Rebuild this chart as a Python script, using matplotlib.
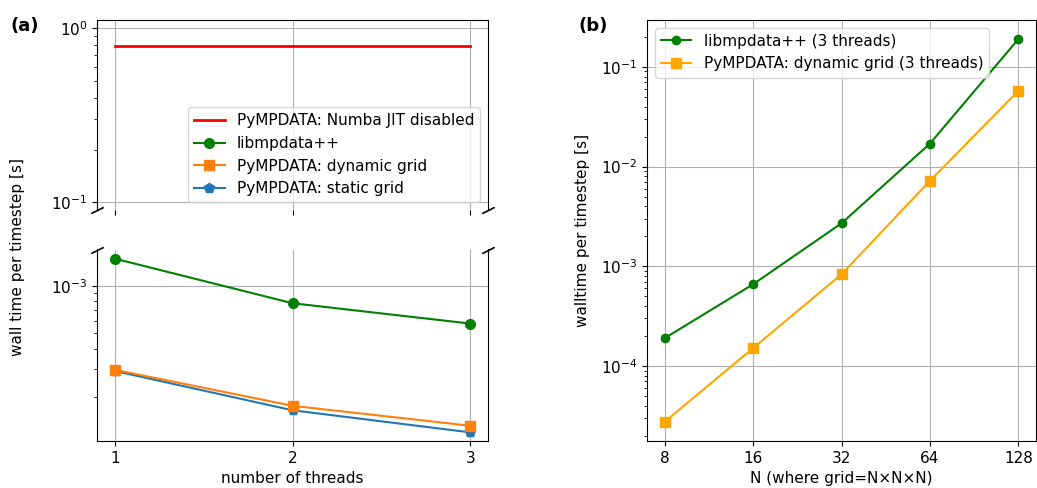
import matplotlib
matplotlib.use("Agg")
import matplotlib.pyplot as plt
import matplotlib.ticker as mticker

plt.rcParams['font.size'] = 11

# panel (a): timing vs number of threads
threads = [1, 2, 3]
numba_off = [0.79, 0.79, 0.79]
libmpdata = [1.48e-3, 7.75e-4, 5.77e-4]
pympdata_dynamic = [2.95e-4, 1.75e-4, 1.31e-4]
pympdata_static = [2.90e-4, 1.64e-4, 1.19e-4]

# panel (b): timing vs grid size (3 threads)
grid_n = [8, 16, 32, 64, 128]
libmpdata_n = [1.9e-4, 6.6e-4, 2.7e-3, 0.017, 0.19]
pympdata_n = [2.75e-5, 1.51e-4, 8.3e-4, 7.2e-3, 0.0575]

W, H = 1037, 488
fig = plt.figure(figsize=(W / 100, H / 100), dpi=100)

ax1 = fig.add_axes([97 / W, 1 - 210 / H, 391 / W, 190 / H])
ax2 = fig.add_axes([97 / W, 1 - 441 / H, 391 / W, 191.5 / H])
axb = fig.add_axes([647 / W, 1 - 441 / H, 389 / W, 421 / H])

for ax in (ax1, ax2):
    ax.plot(threads, numba_off, color='red', lw=2, label='PyMPDATA: Numba JIT disabled')
    ax.plot(threads, libmpdata, color='green', marker='o', markersize=7, label='libmpdata++')
    ax.plot(threads, pympdata_dynamic, color='C1', marker='s', markersize=7,
            label='PyMPDATA: dynamic grid')
    ax.plot(threads, pympdata_static, color='C0', marker='p', markersize=7,
            label='PyMPDATA: static grid', zorder=1.9)
    ax.set_yscale('log')
    ax.grid(True)
    ax.set_xticks(threads)

ax1.set_ylim(0.0903, 1.116)
ax2.set_ylim(1.05e-4, 1.69e-3)
ax1.spines['bottom'].set_visible(False)
ax2.spines['top'].set_visible(False)
ax1.tick_params(labelbottom=False)
ax2.set_xticklabels([str(t) for t in threads])
ax2.set_xlabel('number of threads')
ax1.legend(loc='lower right', framealpha=0.8)

# break marks
d = .5
kw = dict(marker=[(-1, -d), (1, d)], markersize=9, linestyle='none',
          color='k', mec='k', mew=1.2, clip_on=False)
ax1.plot([0, 1], [0, 0], transform=ax1.transAxes, **kw)
ax2.plot([0, 1], [1, 1], transform=ax2.transAxes, **kw)

fig.text(18 / W, 1 - 257 / H, 'wall time per timestep [s]', rotation=90,
         ha='center', va='center')
fig.text(10 / W, 1 - 26 / H, '(a)', fontsize=13, fontweight='bold', va='center')
fig.text(578 / W, 1 - 26 / H, '(b)', fontsize=13, fontweight='bold', va='center')

axb.plot(grid_n, libmpdata_n, color='green', marker='o', label='libmpdata++ (3 threads)')
axb.plot(grid_n, pympdata_n, color='orange', marker='s', markersize=7,
         label='PyMPDATA: dynamic grid (3 threads)')
axb.set_xscale('log', base=2)
axb.set_yscale('log')
axb.set_xticks(grid_n)
axb.set_xticklabels([str(n) for n in grid_n])
axb.xaxis.set_minor_locator(mticker.NullLocator())
axb.grid(True)
axb.set_xlabel('N (where grid=N×N×N)')
axb.set_ylabel('walltime per timestep [s]', labelpad=8)
axb.legend(loc='upper left')

fig.savefig('out.png', dpi=100)
